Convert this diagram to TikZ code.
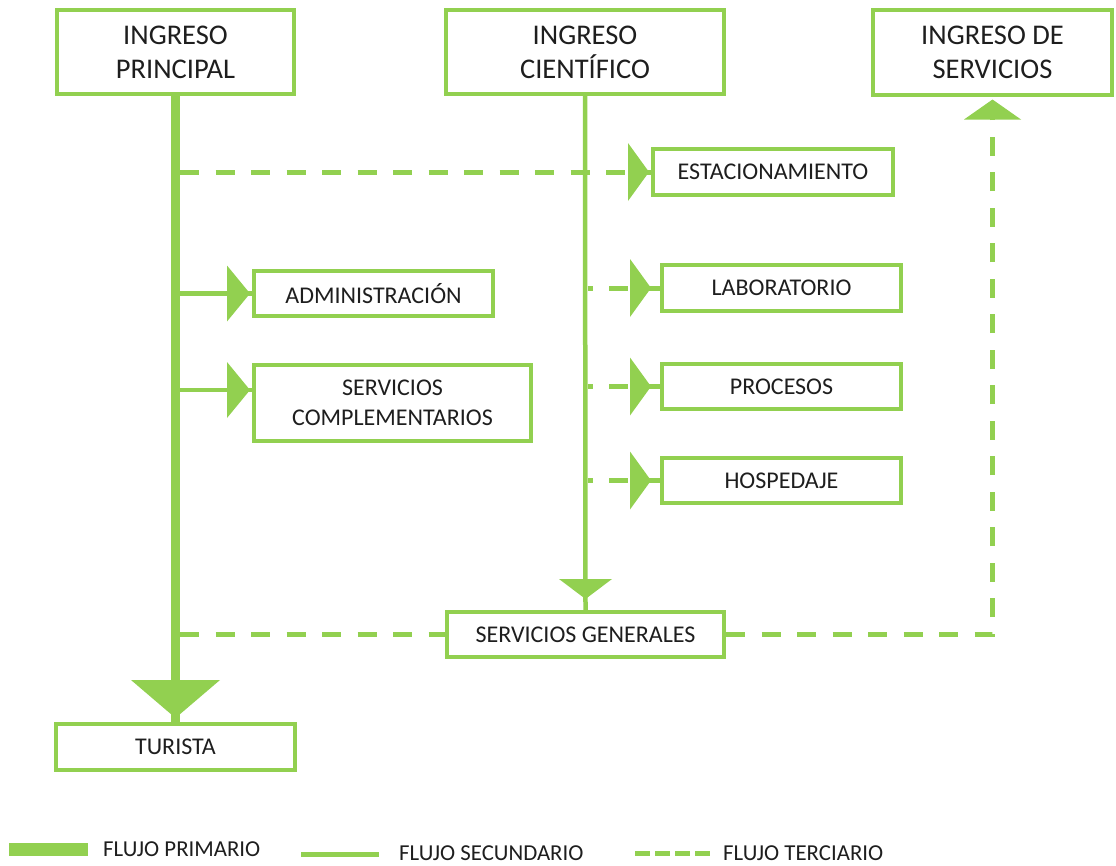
\documentclass[tikz,border=0pt]{standalone}
\usepackage{fontspec}
\setmainfont{Carlito}
\usetikzlibrary{calc}
\definecolor{gr}{HTML}{92D050}
\definecolor{tx}{HTML}{1E1E1E}
\tikzset{
  box/.style={draw=gr, line width=4pt, fill=white, rectangle, inner sep=0pt, align=center, text=tx},
  bigbox/.style={box, minimum height=84pt, font=\fontsize{28.5}{34}\selectfont},
  smallbox/.style={box, minimum height=45pt, font=\fontsize{24}{30}\selectfont},
  pri/.style={draw=gr, line width=9pt},
  sec/.style={draw=gr, line width=4.5pt},
  ter/.style={draw=gr, line width=5pt, dash pattern=on 19pt off 16.5pt},
  tip/.style={fill=gr},
  legtext/.style={anchor=base west, inner sep=0pt, text=tx, font=\fontsize{22.8}{26}\selectfont}
}
\begin{document}
\begin{tikzpicture}[x=1pt,y=-1pt]
\useasboundingbox (0,0) rectangle (1116,865);
% boxes
\node[bigbox, minimum width=237pt] (ip) at (175.5,52) {INGRESO\\PRINCIPAL};
\node[bigbox, minimum width=278pt] (ic) at (585,52) {INGRESO\\CIENTÍFICO};
\node[bigbox, minimum width=239pt, minimum height=85pt] (is) at (992.5,52) {INGRESO DE\\SERVICIOS};
\node[smallbox, minimum width=240pt, minimum height=46pt] (est) at (773,172) {ESTACIONAMIENTO};
\node[smallbox, minimum width=239pt] (adm) at (373.5,293.5) {ADMINISTRACIÓN};
\node[smallbox, minimum width=277pt, minimum height=76pt] (sc) at (392.5,403) {SERVICIOS\\COMPLEMENTARIOS};
\node[smallbox, minimum width=239pt, minimum height=46pt] (lab) at (781.5,288) {LABORATORIO};
\node[smallbox, minimum width=239pt] (proc) at (781.5,386.5) {PROCESOS};
\node[smallbox, minimum width=239pt] (hosp) at (781.5,480.5) {HOSPEDAJE};
\node[smallbox, minimum width=277pt] (gen) at (585.5,634.5) {SERVICIOS GENERALES};
\node[smallbox, minimum width=239pt, minimum height=46pt] (tur) at (175.5,747) {TURISTA};
% helper coordinates
\coordinate (scin) at ($(sc.west)+(0,-13)$);
\coordinate (corner) at (is.south |- gen.east);
% primary flow
\draw[pri] (ip.south) -- (tur.north);
\fill[tip] ($(tur.north)+(0,-4)$) -- ++(-44.5,-38) -- ++(89,0) -- cycle;
% secondary flows
\draw[sec] (ip.south |- adm.west) -- (adm.west);
\fill[tip] ($(adm.west)+(-2,0)$) -- ++(-23,-28) -- ++(0,56) -- cycle;
\draw[sec] (ip.south |- scin) -- (scin);
\fill[tip] ($(scin)+(-2,0)$) -- ++(-23,-28) -- ++(0,56) -- cycle;
\draw[sec] (ic.south) -- (gen.north);
\fill[tip] ($(gen.north)+(0,-11)$) -- ++(-26.5,-20) -- ++(53,0) -- cycle;
% tertiary flows
\draw[ter] ([xshift=4.5pt]ip.south |- est.west) -- (est.west);
\fill[tip] ($(est.west)+(-2,0)$) -- ++(-21,-29) -- ++(0,58) -- cycle;
\draw[ter, dash phase=14pt] ([xshift=2.5pt]ic.south |- lab.west) -- (lab.west);
\fill[tip] ($(lab.west)+(-9,0)$) -- ++(-21,-29) -- ++(0,58) -- cycle;
\draw[ter, dash phase=14pt] ([xshift=2.5pt]ic.south |- proc.west) -- (proc.west);
\fill[tip] ($(proc.west)+(-9,0)$) -- ++(-21,-29) -- ++(0,58) -- cycle;
\draw[ter, dash phase=14pt] ([xshift=2.5pt]ic.south |- hosp.west) -- (hosp.west);
\fill[tip] ($(hosp.west)+(-9,0)$) -- ++(-21,-29) -- ++(0,58) -- cycle;
\draw[ter] ([xshift=4.5pt]ip.south |- gen.west) -- (gen.west);
\draw[ter] (gen.east) -- (corner) -- (is.south);
\fill[tip] ($(is.south)+(0,3)$) -- ++(-28.5,20) -- ++(57,0) -- cycle;
% legend
\coordinate (l1a) at (9,849.5);  \coordinate (l1b) at (88,849.5);
\coordinate (l2a) at (301,854.5); \coordinate (l2b) at (379,854.5);
\coordinate (l3a) at (635,853.5); \coordinate (l3b) at (710,853.5);
\draw[gr, line width=13pt] (l1a) -- (l1b);
\draw[gr, line width=5pt] (l2a) -- (l2b);
\draw[gr, line width=5pt, dash pattern=on 15pt off 5pt] (l3a) -- (l3b);
\node[legtext] (t1) at (103,856) {FLUJO PRIMARIO};
\node[legtext] (t2) at (399,860) {FLUJO SECUNDARIO};
\node[legtext] (t3) at (723,860) {FLUJO TERCIARIO};
\end{tikzpicture}
\end{document}
